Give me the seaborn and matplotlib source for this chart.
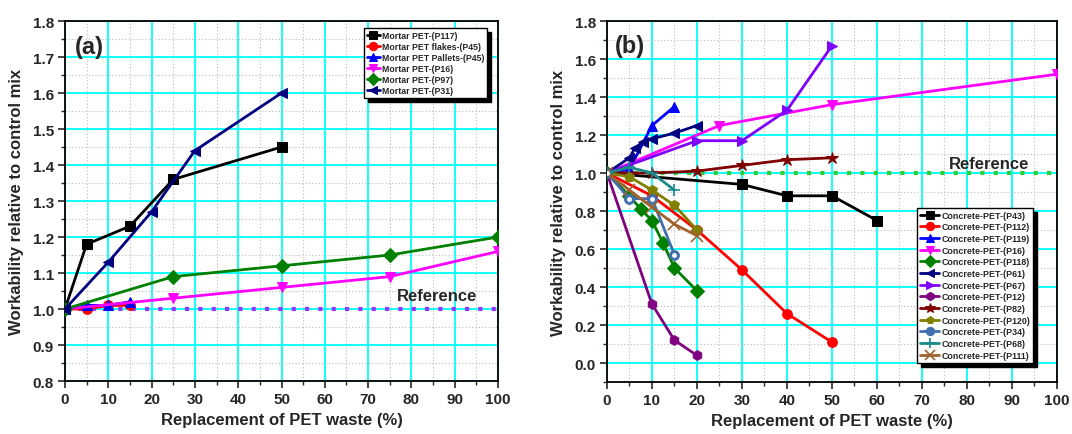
import numpy as np
import pandas as pd
import matplotlib
matplotlib.use("Agg")
import matplotlib.pyplot as plt
from matplotlib.ticker import MultipleLocator, FormatStrFormatter
from matplotlib.patches import Shadow
import seaborn as sns

# ---------------- data: panel (a) mortar ----------------
a_labels = ["Mortar PET-(P117)", "Mortar PET flakes-(P45)", "Mortar PET Pallets-(P45)",
            "Mortar PET-(P16)", "Mortar PET-(P97)", "Mortar PET-(P31)"]
a_x = [
    [0, 5, 15, 25, 50],
    [0, 5, 10, 15],
    [0, 5, 10, 15],
    [0, 25, 50, 75, 100],
    [0, 25, 50, 75, 100],
    [0, 10, 20, 30, 50],
]
a_y = [
    [1.0, 1.18, 1.23, 1.36, 1.45],
    [1.0, 1.0, 1.01, 1.01],
    [1.0, 1.01, 1.01, 1.02],
    [1.0, 1.03, 1.06, 1.09, 1.16],
    [1.0, 1.09, 1.12, 1.15, 1.20],
    [1.0, 1.13, 1.27, 1.44, 1.60],
]
a_colors = ["#000000", "#FF0000", "#0000FF", "#FF00FF", "#008000", "#000080"]
a_markers = ["s", "o", "^", "v", "D", "<"]

# ---------------- data: panel (b) concrete ----------------
b_labels = ["Concrete-PET-(P43)", "Concrete-PET-(P112)", "Concrete-PET-(P119)",
            "Concrete-PET-(P16)", "Concrete-PET-(P118)", "Concrete-PET-(P61)",
            "Concrete-PET-(P67)", "Concrete-PET-(P12)", "Concrete-PET-(P82)",
            "Concrete-PET-(P120)", "Concrete-PET-(P34)", "Concrete-PET-(P68)",
            "Concrete-PET-(P111)"]
b_x = [
    [0, 30, 40, 50, 60],
    [0, 10, 20, 30, 40, 50],
    [0, 5, 10, 15],
    [0, 25, 50, 100],
    [0, 5, 7.5, 10, 12.5, 15, 20],
    [0, 5, 6.2, 8.1, 10, 15, 20],
    [0, 20, 30, 40, 50],
    [0, 10, 15, 20],
    [0, 10, 20, 30, 40, 50],
    [0, 5, 10, 15, 20],
    [0, 5, 10, 15],
    [0, 5, 10, 15],
    [0, 5, 10, 15, 20],
]
b_y = [
    [1.0, 0.94, 0.88, 0.88, 0.75],
    [1.0, 0.88, 0.70, 0.49, 0.26, 0.11],
    [1.0, 1.02, 1.25, 1.35],
    [1.0, 1.25, 1.36, 1.52],
    [1.0, 0.88, 0.81, 0.75, 0.63, 0.50, 0.38],
    [1.0, 1.08, 1.13, 1.165, 1.18, 1.21, 1.25],
    [1.0, 1.17, 1.17, 1.33, 1.67],
    [1.0, 0.31, 0.12, 0.04],
    [1.0, 1.0, 1.01, 1.04, 1.07, 1.08],
    [1.0, 0.98, 0.91, 0.83, 0.70],
    [1.0, 0.865, 0.865, 0.57],
    [1.0, 1.03, 1.0, 0.91],
    [1.0, 0.91, 0.82, 0.73, 0.67],
]
b_colors = ["#000000", "#FF0000", "#0000FF", "#FF00FF", "#008000", "#000080",
            "#8000FF", "#800080", "#800000", "#808000", "#3F6FAF", "#1A8A8A", "#A0622D"]
b_markers = ["s", "o", "^", "v", "D", "<", ">", "h", "*", "p", "o", "+", "x"]

ref_x = [0, 100]
ref_y = [1.0, 1.0]

# ---------------- styling ----------------
sns.set_style("ticks")
plt.rcParams["font.family"] = ["Liberation Sans", "DejaVu Sans"]
plt.rcParams["font.weight"] = "bold"

fig = plt.figure(figsize=(10.72, 4.35), dpi=100)
ax_a = fig.add_axes([0.0606, 0.1218, 0.4040, 0.8276])
ax_b = fig.add_axes([0.5662, 0.1195, 0.4198, 0.8299])


def style_axes(ax, ymaj, ymin_):
    ax.set_xlim(0, 100)
    ax.xaxis.set_major_locator(MultipleLocator(10))
    ax.xaxis.set_minor_locator(MultipleLocator(5))
    ax.yaxis.set_major_locator(MultipleLocator(ymaj))
    ax.yaxis.set_minor_locator(MultipleLocator(ymin_))
    ax.yaxis.set_major_formatter(FormatStrFormatter("%.1f"))
    ax.grid(which="major", color="#00FFFF", lw=1.3, ls="-", zorder=0)
    ax.grid(which="minor", color="#BBBBBB", lw=0.8, ls=(0, (1, 2)), zorder=0)
    ax.set_axisbelow(True)
    for s in ax.spines.values():
        s.set_linewidth(1.3)
        s.set_color("black")
    ax.tick_params(which="major", direction="out", length=5, width=1.2,
                   labelsize=11, pad=3)
    ax.tick_params(which="minor", direction="out", length=3, width=1.0)
    for lab in ax.get_xticklabels() + ax.get_yticklabels():
        lab.set_fontweight("bold")
    ax.set_xlabel("Replacement of PET waste (%)", fontsize=12, fontweight="bold", labelpad=4)
    ax.set_ylabel("Workability relative to control mix", fontsize=12, fontweight="bold", labelpad=6)


def make_legend(ax, **kw):
    leg = ax.legend(frameon=True, fancybox=False, shadow=False, framealpha=1,
                    borderaxespad=0, markerscale=0.85, **kw)
    leg.get_frame().set_edgecolor("black")
    leg.get_frame().set_linewidth(1.0)
    for t in leg.get_texts():
        t.set_fontweight("bold")
    leg.set_zorder(10)
    return leg


# ---- panel (a)
for lab, xs, ys, c, m in zip(a_labels, a_x, a_y, a_colors, a_markers):
    sns.lineplot(x=xs, y=ys, ax=ax_a, color=c, marker=m, markersize=7,
                 markeredgecolor=c, markerfacecolor=c, linewidth=2,
                 label=lab, sort=False, errorbar=None, zorder=3)
ax_a.plot(ref_x, ref_y, color="#9933FF", lw=3, ls=(0, (1, 2.2)),
          dash_capstyle="butt", zorder=2.5, label="_nolegend_")
ax_a.set_ylim(0.8, 1.8)
style_axes(ax_a, 0.1, 0.05)
ax_a.text(86, 1.037, "Reference", fontsize=12, fontweight="bold", ha="center", va="center")
ax_a.text(2.3, 1.73, "(a)", fontsize=17, fontweight="bold", ha="left", va="center")
leg_a = make_legend(ax_a, loc="upper right", bbox_to_anchor=(0.975, 0.98), fontsize=6.3,
                    handlelength=1.5, handletextpad=0.2, labelspacing=0.22,
                    borderpad=0.35)

# ---- panel (b)
for lab, xs, ys, c, m in zip(b_labels, b_x, b_y, b_colors, b_markers):
    kw = dict(markerfacecolor=c, markeredgecolor=c)
    ms = 7
    if m in ("+", "x"):
        ms = 9
        kw = dict(markeredgecolor=c, markeredgewidth=1.2)
    if m == "*":
        ms = 9
    sns.lineplot(x=xs, y=ys, ax=ax_b, color=c, marker=m, markersize=ms,
                 linewidth=2, label=lab, sort=False, errorbar=None, zorder=3, **kw)
    if lab.endswith("(P34)"):
        ax_b.plot(xs, ys, ls="none", marker="o", markersize=2.5, color="white",
                  zorder=4, label="_nolegend_")
ax_b.plot(ref_x, ref_y, color="#33CC33", lw=3, ls=(0, (1, 2.2)),
          dash_capstyle="butt", zorder=2.5, label="_nolegend_")
ax_b.set_ylim(-0.1, 1.8)
style_axes(ax_b, 0.2, 0.1)
ax_b.text(85, 1.05, "Reference", fontsize=12, fontweight="bold", ha="center", va="center")
ax_b.text(1.8, 1.67, "(b)", fontsize=17, fontweight="bold", ha="left", va="center")
leg_b = make_legend(ax_b, loc="lower right", bbox_to_anchor=(0.947, 0.053), fontsize=6.4,
                    handlelength=2.1, handletextpad=0.25, labelspacing=0.3,
                    borderpad=0.35)

# black drop shadows behind legends (drawn after legend bounds are known)
fig.canvas.draw()
for ax, leg in ((ax_a, leg_a), (ax_b, leg_b)):
    sh = Shadow(leg.legendPatch, 3, -3, color="black", alpha=1)
    sh.set_zorder(9.5)
    ax.add_artist(sh)

fig.savefig("out.png", dpi=100)
